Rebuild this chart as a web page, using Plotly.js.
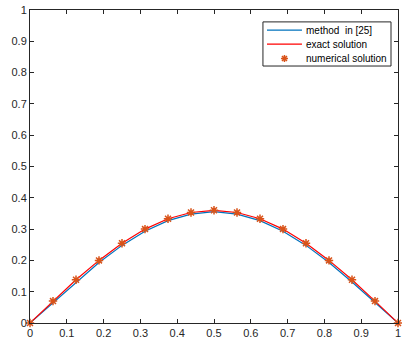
<!DOCTYPE html>
<html>
<head>
<meta charset="utf-8">
<script src="https://cdn.plot.ly/plotly-3.0.1.min.js"></script>
<style>html,body{margin:0;padding:0;background:#fff;}#chart{width:402px;height:347px;}</style>
</head>
<body>
<div id="chart"></div>
<script>
const xs = [0, 0.0625, 0.125, 0.1875, 0.25, 0.3125, 0.375, 0.4375, 0.5, 0.5625, 0.625, 0.6875, 0.75, 0.8125, 0.875, 0.9375, 1];
const methodRef = [0, 0.064, 0.131, 0.193, 0.248, 0.293, 0.327, 0.348, 0.356, 0.348, 0.327, 0.293, 0.248, 0.193, 0.131, 0.064, 0];
const exactSol = [0, 0.070, 0.138, 0.200, 0.255, 0.300, 0.333, 0.353, 0.360, 0.353, 0.333, 0.300, 0.255, 0.200, 0.138, 0.070, 0];
const numericalSol = [0, 0.070, 0.138, 0.200, 0.255, 0.300, 0.333, 0.353, 0.360, 0.353, 0.333, 0.300, 0.255, 0.200, 0.138, 0.070, 0];
const xTicks = [0, 0.1, 0.2, 0.3, 0.4, 0.5, 0.6, 0.7, 0.8, 0.9, 1];
const xTickText = ['0', '0.1', '0.2', '0.3', '0.4', '0.5', '0.6', '0.7', '0.8', '0.9', '1'];
const yTicks = [0, 0.1, 0.2, 0.3, 0.4, 0.5, 0.6, 0.7, 0.8, 0.9, 1];
const yTickText = ['0', '0.1', '0.2', '0.3', '0.4', '0.5', '0.6', '0.7', '0.8', '0.9', '1'];
const legendNames = ['method\u00a0 in [25]', 'exact solution', 'numerical solution'];

const colors = {method: '#0072BD', exact: '#FF0000', num: '#D95319', axis: '#262626'};
const font = {family: 'Liberation Sans, Arial, sans-serif', size: 11, color: colors.axis};
const legFont = {family: 'Liberation Sans, Arial, sans-serif', size: 10, color: '#000'};

const traces = [
  {x: xs, y: methodRef, mode: 'lines', name: legendNames[0], line: {color: colors.method, width: 1.2}},
  {x: xs, y: exactSol, mode: 'lines', name: legendNames[1], line: {color: colors.exact, width: 1.2}},
  {x: xs, y: numericalSol, mode: 'markers', name: legendNames[2], cliponaxis: false,
   marker: {symbol: 'asterisk-open', size: 7, color: colors.num, line: {color: colors.num, width: 1.5}}}
];
const axisCommon = {
  showline: true, mirror: 'ticks', linecolor: colors.axis, linewidth: 1,
  ticks: 'inside', ticklen: 4, tickcolor: colors.axis, showgrid: false, zeroline: false,
  tickfont: font, tickmode: 'array', ticklabeloverflow: 'allow'
};

// custom MATLAB-style legend (paper coordinates)
const lg = {x0: 0.633, x1: 0.981, y0: 0.821, y1: 0.962, sx0: 0.644, sx1: 0.739, tx: 0.745, rows: [0.936, 0.891, 0.845]};
const shapes = [
  {type: 'rect', xref: 'paper', yref: 'paper', x0: lg.x0, x1: lg.x1, y0: lg.y0, y1: lg.y1,
   fillcolor: '#fff', line: {color: colors.axis, width: 1}, layer: 'above'},
  {type: 'line', xref: 'paper', yref: 'paper', x0: lg.sx0, x1: lg.sx1, y0: lg.rows[0], y1: lg.rows[0],
   line: {color: colors.method, width: 1.2}, layer: 'above'},
  {type: 'line', xref: 'paper', yref: 'paper', x0: lg.sx0, x1: lg.sx1, y0: lg.rows[1], y1: lg.rows[1],
   line: {color: colors.exact, width: 1.2}, layer: 'above'},
  {type: 'path', xref: 'paper', yref: 'paper', xsizemode: 'pixel', ysizemode: 'pixel',
   xanchor: (lg.sx0 + lg.sx1) / 2, yanchor: lg.rows[2],
   path: 'M-3.5,0H3.5M0,-3.5V3.5M-2.5,-2.5L2.5,2.5M-2.5,2.5L2.5,-2.5',
   line: {color: colors.num, width: 1.5}, layer: 'above'}
];
const annotations = legendNames.map((t, i) => ({
  text: t, xref: 'paper', yref: 'paper', x: lg.tx, y: lg.rows[i], xanchor: 'left', yanchor: 'middle',
  showarrow: false, font: legFont
}));

const layout = {
  width: 402, height: 347,
  margin: {l: 30, r: 4, t: 10, b: 24},
  paper_bgcolor: '#fff', plot_bgcolor: '#fff',
  showlegend: false,
  xaxis: Object.assign({}, axisCommon, {range: [0, 1], tickvals: xTicks, ticktext: xTickText}),
  yaxis: Object.assign({}, axisCommon, {range: [0, 1], tickvals: yTicks, ticktext: yTickText}),
  shapes: shapes, annotations: annotations
};
Plotly.newPlot('chart', traces, layout, {staticPlot: true, displayModeBar: false});
</script>
</body>
</html>
